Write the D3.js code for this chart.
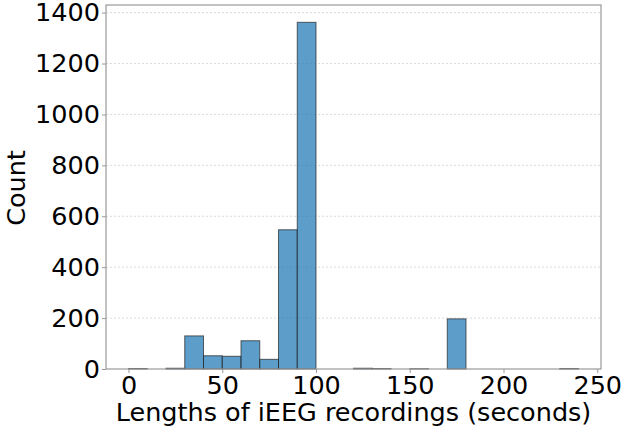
<!DOCTYPE html>
<html><head><meta charset="utf-8">
<script src="https://cdn.jsdelivr.net/npm/d3@7"></script>
<style>body{margin:0;background:#fff}svg{display:block}</style>
</head><body><svg id="c" width="624" height="435"></svg>
<script>
const binStarts = [0,10,20,30,40,50,60,70,80,90,100,110,120,130,140,150,160,170,180,190,200,210,220,230];
const counts    = [2,0,3,130,52,50,111,38,547,1362,0,0,3,2,0,1,0,197,0,0,0,0,0,2];
const binWidth = 10;
const xTicks = [0,50,100,150,200,250];
const yTicks = [0,200,400,600,800,1000,1200,1400];
const xLabel = "Lengths of iEEG recordings (seconds)";
const yLabel = "Count";

const svg = d3.select("#c");
const L=106, R=601, T=5, B=369;
const x = d3.scaleLinear().domain([-12,252]).range([L,R]);
const y = d3.scaleLinear().domain([0,1430]).range([B,T]);
const font = "DejaVu Sans, sans-serif";
const fs = 25.5;

// grid
svg.append("g").selectAll("line").data(yTicks.slice(1)).join("line")
  .attr("x1",L).attr("x2",R).attr("y1",d=>y(d)).attr("y2",d=>y(d))
  .attr("stroke","#d0d0d0").attr("stroke-width",0.8).attr("stroke-dasharray","2,2");

// bars
svg.append("g").selectAll("rect").data(binStarts.map((s,i)=>({s,c:counts[i]}))).join("rect")
  .attr("x",d=>x(d.s)).attr("width",d=>x(d.s+binWidth)-x(d.s))
  .attr("y",d=>y(d.c)).attr("height",d=>y(0)-y(d.c))
  .attr("fill","#1f77b4").attr("fill-opacity",0.72)
  .attr("stroke","#222").attr("stroke-opacity",0.7).attr("stroke-width",1);

// spines
svg.append("rect").attr("x",L).attr("y",T).attr("width",R-L).attr("height",B-T)
  .attr("fill","none").attr("stroke","#999").attr("stroke-width",1.2);

// axes
const xa = svg.append("g").attr("transform",`translate(0,${B})`)
  .call(d3.axisBottom(x).tickValues(xTicks).tickFormat(d3.format("d")).tickSize(4).tickPadding(3));
const ya = svg.append("g").attr("transform",`translate(${L},0)`)
  .call(d3.axisLeft(y).tickValues(yTicks).tickFormat(d3.format("d")).tickSize(4).tickPadding(2));
[xa,ya].forEach(a=>{
  a.select(".domain").remove();
  a.selectAll(".tick line").attr("stroke","#999");
  a.selectAll("text").attr("font-family",font).attr("font-size",fs).attr("fill","#000");
});

svg.append("text").attr("x",(L+R)/2).attr("y",421).attr("text-anchor","middle")
  .attr("font-family",font).attr("font-size",fs).attr("fill","#000").text(xLabel);
svg.append("text").attr("transform","translate(25,188) rotate(-90)").attr("text-anchor","middle")
  .attr("font-family",font).attr("font-size",fs).attr("fill","#000").text(yLabel);
</script></body></html>
